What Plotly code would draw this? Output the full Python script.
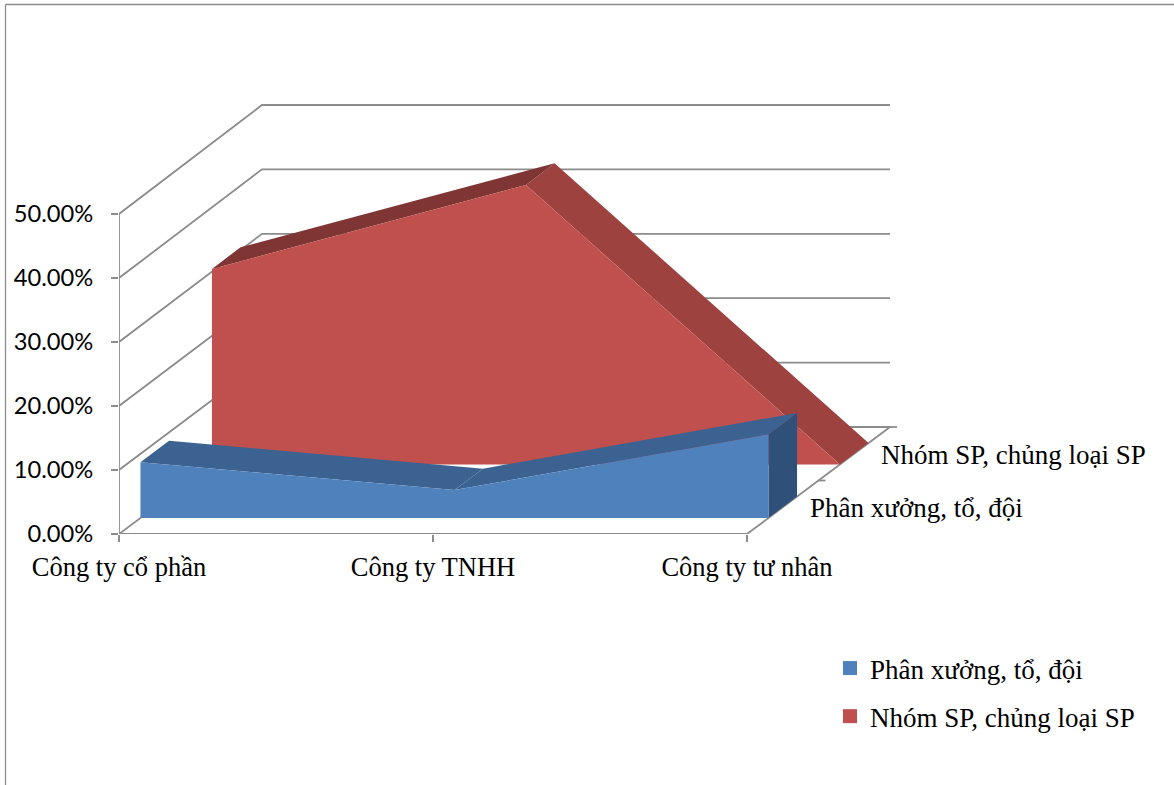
import plotly.graph_objects as go

# Chart data
categories = ["Công ty cổ phần", "Công ty TNHH", "Công ty tư nhân"]
series_names = ["Phân xưởng, tổ, đội", "Nhóm SP, chủng loại SP"]
phan_xuong = [0.0870, 0.0435, 0.1304]
nhom_sp = [0.3043, 0.4348, 0.0]
value_ticks = [0.0, 0.1, 0.2, 0.3, 0.4, 0.5]

# Page geometry of the plot area and its scales
LEFT, BOTTOM, RIGHT, TOP = 119, 534, 900, 95
PX_PER_CAT = 314
PX_PER_UNIT = 640

# Pseudo-3D look: the depth axis is sheared onto the category/value plane
DEPTH_X = 143 / PX_PER_CAT   # categories moved per unit of depth
DEPTH_Y = 107 / PX_PER_UNIT  # value units moved per unit of depth
DEPTH_GROW = 2 / 320         # slight perspective: heights grow towards the back wall
BAND = 0.10                  # half thickness of a series, in depth units

GRID = "#8c8c8c"
FONT_SERIF = "Liberation Serif"
FONT_SANS = "Lato"


def project(cat, value, depth):
    return cat + depth * DEPTH_X, value * (1 + depth * DEPTH_GROW) + depth * DEPTH_Y


def paper_x(px):
    return (px - LEFT) / (RIGHT - LEFT)


def paper_y(py):
    return (BOTTOM - py) / (BOTTOM - TOP)


fig = go.Figure()


def add_face(points, color):
    xy = [project(*p) for p in points]
    fig.add_trace(go.Scatter(
        x=[p[0] for p in xy] + [xy[0][0]],
        y=[p[1] for p in xy] + [xy[0][1]],
        mode="lines", fill="toself", fillcolor=color,
        line=dict(width=0, color=color),
        hoverinfo="skip", showlegend=False,
    ))


def add_lines(segments, width=1.8):
    xs, ys = [], []
    for seg in segments:
        for p in seg:
            x, y = project(*p)
            xs.append(x)
            ys.append(y)
        xs.append(None)
        ys.append(None)
    fig.add_trace(go.Scatter(
        x=xs, y=ys, mode="lines", line=dict(color=GRID, width=width),
        hoverinfo="skip", showlegend=False,
    ))


def add_series(values, center, front, tops, side):
    near, far = center - BAND, center + BAND
    last = len(values) - 1
    add_face([(last, 0, near), (last, 0, far),
              (last, values[last], far), (last, values[last], near)], side)
    for i in range(last - 1, -1, -1):
        add_face([(i, values[i], near), (i, values[i], far),
                  (i + 1, values[i + 1], far), (i + 1, values[i + 1], near)], tops[i])
    add_face([(i, v, near) for i, v in enumerate(values)]
             + [(last, 0, near), (0, 0, near)], front)


# Walls and floor
last_cat = len(categories) - 1
wall = []
for v in value_ticks:
    wall.append([(0, v, 0), (0, v, 1), (last_cat, v, 1)])
wall.append([(last_cat, 0, 0), (last_cat, 0, 1)])
# Front edges standing in for the axis lines, which stop at the last tick
wall.append([(0, value_ticks[-1], 0), (0, 0, 0), (last_cat, 0, 0)])
add_lines(wall)

# Tick marks along the depth edge of the floor
tick_len = 7 / PX_PER_CAT
add_lines([[(last_cat, 0, d), (last_cat + tick_len, 0, d)] for d in (0.5, 1.0)])

# Series, furthest first
add_series(nhom_sp, 0.75, "#C0504D", ["#7F3533", "#9E4240"], "#9E4240")
add_series(phan_xuong, 0.25, "#4F81BD", ["#3B6291", "#3B6291"], "#2F5078")

# Legend entries
for name, color, group in zip(series_names, ["#4F81BD", "#C0504D"], ["a", "b"]):
    fig.add_trace(go.Scatter(
        x=[None], y=[None], mode="markers", name=name, legendgroup=group,
        marker=dict(symbol="square", size=14, color=color),
    ))

# Series names at the end of the depth axis
for name, depth in zip(series_names, (0.25, 0.75)):
    x, y = project(last_cat, 0, depth)
    fig.add_annotation(
        x=x, y=y, text=name, showarrow=False, xanchor="left", yanchor="middle",
        xshift=25, yshift=-1, font=dict(family=FONT_SERIF, size=27, color="#000000"),
    )

# Outer frame of the chart area (left and top edges only are in view)
fx, fy = paper_x(5.5), paper_y(4.5)
fig.add_shape(type="line", xref="paper", yref="paper", x0=fx, x1=fx,
              y0=paper_y(800), y1=fy, line=dict(color=GRID, width=1.3))
fig.add_shape(type="line", xref="paper", yref="paper", x0=fx, x1=paper_x(1180),
              y0=fy, y1=fy, line=dict(color=GRID, width=1.3))

fig.update_layout(
    width=1174, height=785, autosize=False,
    margin=dict(l=LEFT, r=1174 - RIGHT, t=TOP, b=785 - BOTTOM, pad=0),
    paper_bgcolor="#ffffff", plot_bgcolor="rgba(0,0,0,0)",
    showlegend=True,
    legend=dict(
        x=paper_x(830), y=paper_y(644), xanchor="left", yanchor="top",
        font=dict(family=FONT_SERIF, size=27, color="#000000"),
        tracegroupgap=10, bgcolor="rgba(0,0,0,0)", itemclick=False, itemdoubleclick=False,
    ),
    xaxis=dict(
        range=[0, (RIGHT - LEFT) / PX_PER_CAT], tickmode="array",
        tickvals=list(range(len(categories))), ticktext=categories,
        showgrid=False, zeroline=False, showline=False,
        ticks="outside", ticklen=7, tickwidth=2, tickcolor=GRID,
        tickfont=dict(family=FONT_SERIF, size=26.5, color="#000000"),
        ticklabelstandoff=2,
    ),
    yaxis=dict(
        range=[0, (BOTTOM - TOP) / PX_PER_UNIT], tickmode="array",
        tickvals=value_ticks, tickformat=".2%",
        showgrid=False, zeroline=False, showline=False,
        ticks="outside", ticklen=7, tickwidth=2, tickcolor=GRID,
        tickfont=dict(family=FONT_SANS, size=23.7, color="#000000"),
        ticklabelstandoff=13,
    ),
)

fig.write_html("out.html")
